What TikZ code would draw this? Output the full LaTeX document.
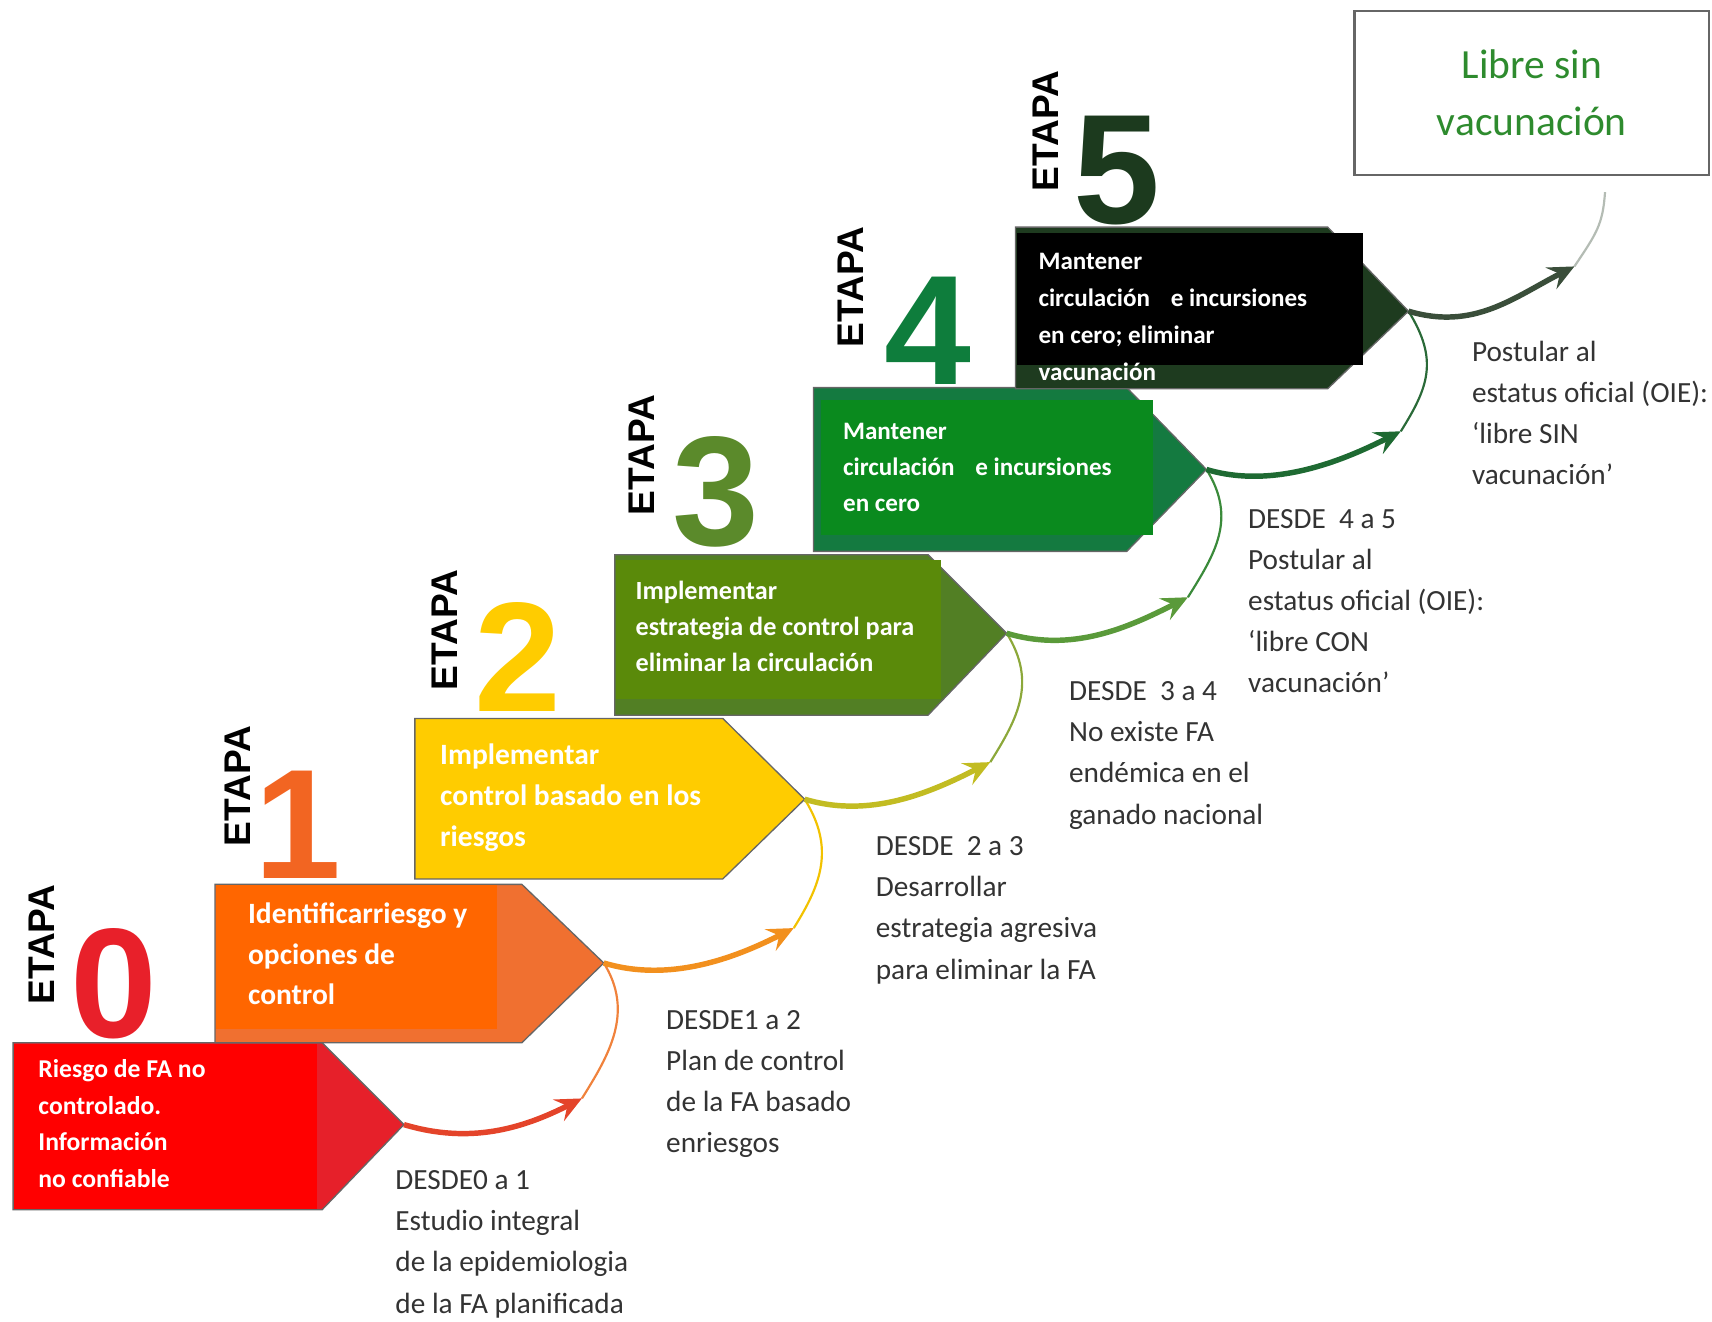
\documentclass[tikz,border=0pt]{standalone}
\usepackage{fontspec}
\setmainfont{Carlito}
\newfontfamily\etapafont{Liberation Sans}
\usetikzlibrary{arrows.meta}
\definecolor{rojoA}{HTML}{FF0000}
\definecolor{rojoB}{HTML}{E6202A}
\definecolor{naranjaA}{HTML}{FF6600}
\definecolor{naranjaB}{HTML}{F07030}
\definecolor{amarillo}{HTML}{FFCC00}
\definecolor{olivaA}{HTML}{5A8A0A}
\definecolor{olivaB}{HTML}{527F24}
\definecolor{verdeA}{HTML}{0A8A1E}
\definecolor{verdeB}{HTML}{147A40}
\definecolor{oscuroB}{HTML}{1E3B1F}
\definecolor{num0}{HTML}{E8202A}
\definecolor{num1}{HTML}{F26522}
\definecolor{num3}{HTML}{5B8A2B}
\definecolor{num4}{HTML}{0E7D3C}
\definecolor{num5}{HTML}{1C3A1E}
\definecolor{gristexto}{HTML}{333333}
\definecolor{verdelibre}{HTML}{2E8B2E}
\definecolor{f0}{HTML}{E4442A}
\definecolor{f1}{HTML}{F2901E}
\definecolor{f2}{HTML}{C2BC22}
\definecolor{f3}{HTML}{5A9A3A}
\definecolor{f4}{HTML}{1E6A32}
\definecolor{f5}{HTML}{3A4E3A}
\definecolor{r0}{HTML}{F0823C}
\definecolor{r1}{HTML}{F2C200}
\definecolor{r2}{HTML}{8CA83A}
\definecolor{r3}{HTML}{3A8A3A}
\definecolor{r4}{HTML}{2A6A38}
\definecolor{r5}{HTML}{B4BCB4}

\begin{document}
\begin{tikzpicture}[x=1pt,y=-1pt,
    stagetxt/.style 2 args={anchor=north west, inner sep=0pt, text=white, align=left,
      font=\fontsize{#1}{#2}\selectfont\bfseries},
    desde/.style={anchor=north west, inner sep=0pt, text=gristexto, align=left,
      font=\fontsize{26.8}{37.7}\selectfont},
    etapa/.style={rotate=90, inner sep=0pt, text depth=0pt, font=\etapafont\bfseries\fontsize{34}{34}\selectfont},
    numeral/.style={anchor=base, inner sep=0pt, text depth=0pt, font=\etapafont\bfseries\fontsize{143}{143}\selectfont},
    borde/.style={draw=black!60, line width=1.2pt},
    flecha/.style={line width=5pt, -{Stealth[length=24pt,width=22pt,inset=9pt]}},
    retorno/.style={line width=2pt}]
    \useasboundingbox (0,0) rectangle (1568,1210);

    % etapa 0
    \node[etapa] (e0) at (38,865) {ETAPA};
    \node[numeral, text=num0] (n0) at (104,950) {0};
    \fill[rojoB, borde] (12,955) -- (295,955) -- (370,1030) -- (295,1108) -- (12,1108) -- cycle;
    \fill[rojoA] (13,956) rectangle (290,1107);
    \node[stagetxt={23.5}{33.7}] (s0) at (35,970) {Riesgo de FA no\\controlado.\\Información\\no confiable};
    \coordinate (t0) at (370,1030);

    % etapa 1
    \node[etapa] (e1) at (218,720) {ETAPA};
    \node[numeral, text=num1] (n1) at (273,805) {1};
    \fill[naranjaB, borde] (197,810) -- (478,810) -- (553,882) -- (478,955) -- (197,955) -- cycle;
    \fill[naranjaA] (198,811) rectangle (455,942);
    \node[stagetxt={27}{37}] (s1) at (227,827) {Identificarriesgo y\\opciones de\\control};
    \coordinate (t1) at (553,882);

    % etapa 2
    \node[etapa] (e2) at (407,577) {ETAPA};
    \node[numeral, text=amarillo] (n2) at (474,652) {2};
    \fill[amarillo, borde] (380,658) -- (662,658) -- (737,732) -- (662,805) -- (380,805) -- cycle;
    \node[stagetxt={27}{37.5}] (s2) at (403,681) {Implementar\\control basado en los\\riesgos};
    \coordinate (t2) at (737,732);

    % etapa 3
    \node[etapa] (e3) at (588,417) {ETAPA};
    \node[numeral, text=num3] (n3) at (656,500) {3};
    \fill[olivaB, borde] (563,508) -- (850,508) -- (922,580) -- (850,655) -- (563,655) -- cycle;
    \fill[olivaA] (564,513) rectangle (862,640);
    \node[stagetxt={24}{33}] (s3) at (582,532) {Implementar\\estrategia de control para\\eliminar la circulación};
    \coordinate (t3) at (922,580);

    % etapa 4
    \node[etapa] (e4) at (779,263) {ETAPA};
    \node[numeral, text=num4] (n4) at (850,352) {4};
    \fill[verdeB, borde] (745,355) -- (1032,355) -- (1105,430) -- (1032,505) -- (745,505) -- cycle;
    \fill[verdeA] (752,366) rectangle (1056,490);
    \node[stagetxt={23}{33}] (s4) at (772,387) {Mantener\\circulación\hspace{0.6em} e incursiones\\en cero};
    \coordinate (t4) at (1105,430);

    % etapa 5
    \node[etapa] (e5) at (958,120) {ETAPA};
    \node[numeral, text=num5] (n5) at (1023,205) {5};
    \fill[oscuroB, borde] (930,208) -- (1216,208) -- (1290,285) -- (1216,356) -- (930,356) -- cycle;
    \fill[black] (931,213) rectangle (1248,334);
    \node[stagetxt={23}{33.7}] (s5) at (951,232) {Mantener\\circulación\hspace{0.6em} e incursiones\\en cero; eliminar\\vacunación};
    \coordinate (t5) at (1290,285);

    % caja final
    \node[draw=gray!80!black, line width=2pt, minimum width=325pt, minimum height=150pt,
      align=center, text=verdelibre, font=\fontsize{38}{55}\selectfont] (libre) at (1403,85)
      {Libre sin\\[-2pt]vacunación};
    \coordinate (fin) at (1470,176);

    % textos DESDE
    \node[desde] (d0) at (362,1072) {DESDE0 a 1\\Estudio integral\\de la epidemiologia\\de la FA planificada};
    \node[desde] (d1) at (610,925) {DESDE1 a 2\\Plan de control\\de la FA basado\\enriesgos};
    \node[desde] (d2) at (802,766) {DESDE\ \ 2 a 3\\Desarrollar\\estrategia agresiva\\para eliminar la FA};
    \node[desde] (d3) at (979,624) {DESDE\ \ 3 a 4\\No existe FA\\endémica en el\\ganado nacional};
    \node[desde] (d4) at (1143,466) {DESDE\ \ 4 a 5\\Postular al\\estatus oficial (OIE):\\‘libre CON\\vacunación’};
    \node[desde] (d5) at (1348,312) {Postular al\\estatus oficial (OIE):\\‘libre SIN\\vacunación’};

    % flechas
    \coordinate (h0) at (533,1006);
    \coordinate (h1) at (727,850);
    \coordinate (h2) at (907,698);
    \coordinate (h3) at (1088,547);
    \coordinate (h4) at (1283,395);
    \coordinate (h5) at (1442,244);
    \draw[retorno, r0] (t1) .. controls +(28,45) and +(25,-40) .. (h0);
    \draw[retorno, r1] (t2) .. controls +(28,45) and +(25,-40) .. (h1);
    \draw[retorno, r2] (t3) .. controls +(28,45) and +(25,-40) .. (h2);
    \draw[retorno, r3] (t4) .. controls +(28,45) and +(25,-40) .. (h3);
    \draw[retorno, r4] (t5) .. controls +(28,45) and +(25,-40) .. (h4);
    \draw[retorno, r5] (fin) .. controls +(-2,30) and +(20,-30) .. (h5);
    \draw[flecha, f0] (t0) .. controls +(60,18) and +(-55,28) .. (h0);
    \draw[flecha, f1] (t1) .. controls +(60,18) and +(-55,28) .. (h1);
    \draw[flecha, f2] (t2) .. controls +(60,18) and +(-55,28) .. (h2);
    \draw[flecha, f3] (t3) .. controls +(60,18) and +(-55,28) .. (h3);
    \draw[flecha, f4] (t4) .. controls +(60,18) and +(-55,28) .. (h4);
    \draw[flecha, f5] (t5) .. controls +(60,18) and +(-55,28) .. (h5);
\end{tikzpicture}
\end{document}
